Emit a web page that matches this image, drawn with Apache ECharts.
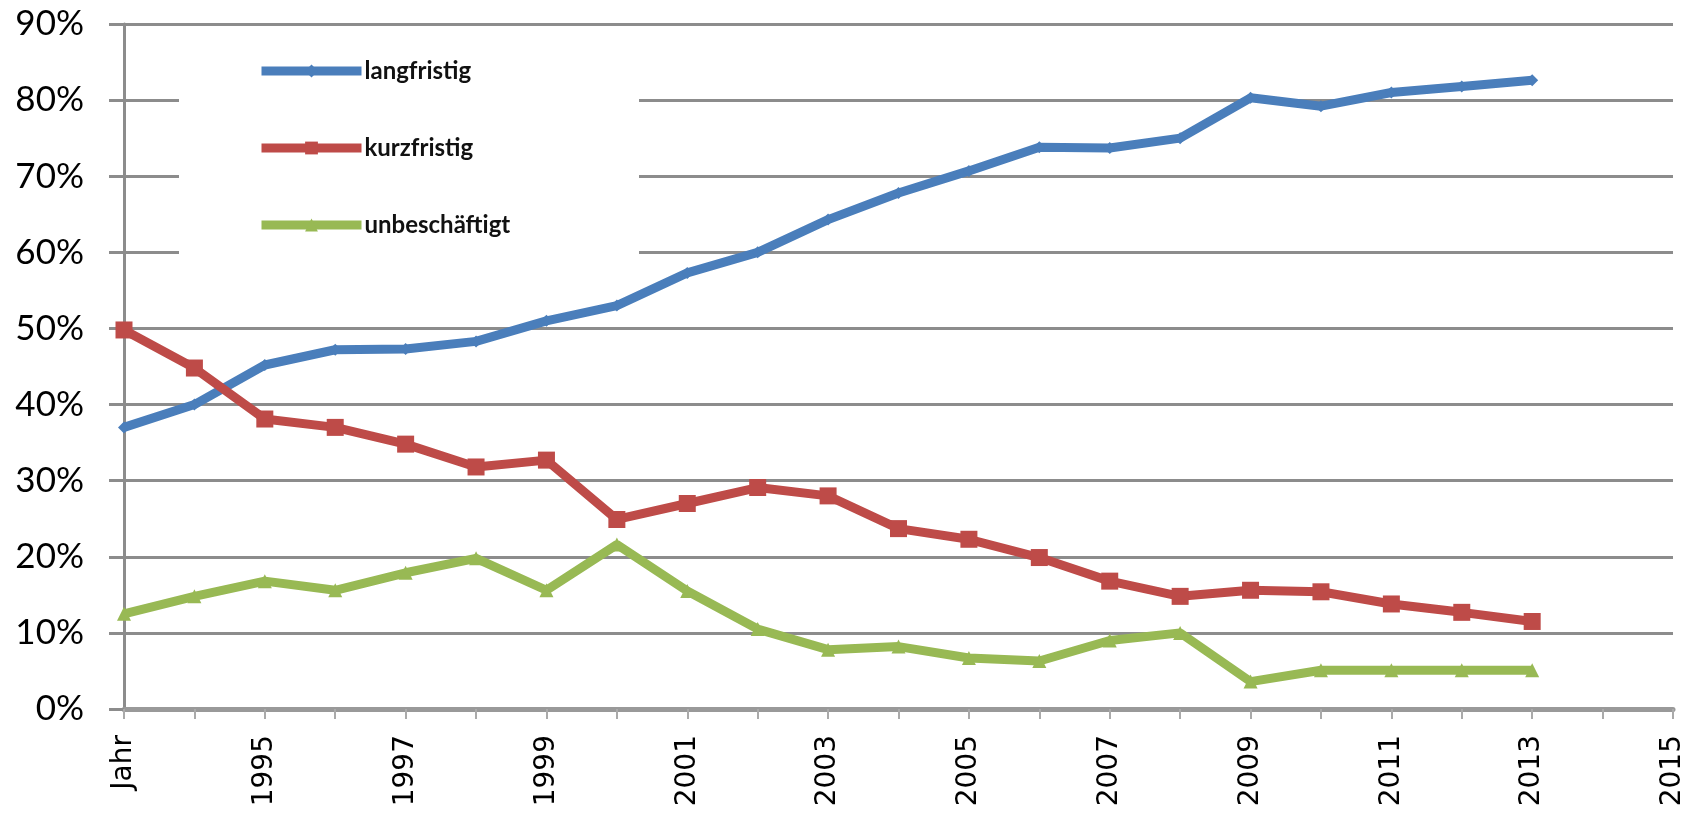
<!DOCTYPE html>
<html><head><meta charset="utf-8">
<script src="https://cdn.jsdelivr.net/npm/echarts@6/dist/echarts.min.js"></script>
<style>html,body{margin:0;padding:0;background:#fff}#c{width:1698px;height:819px}</style>
</head><body><div id="c"></div>
<script>
const categories = ['Jahr','1994','1995','1996','1997','1998','1999','2000','2001','2002','2003','2004','2005','2006','2007','2008','2009','2010','2011','2012','2013','2014','2015'];
const langfristig = [37, 40, 45.2, 47.2, 47.3, 48.3, 51, 53, 57.3, 60, 64.3, 67.8, 70.7, 73.8, 73.7, 75, 80.3, 79.2, 81, 81.8, 82.6];
const kurzfristig = [49.8, 44.8, 38.1, 37, 34.8, 31.8, 32.7, 24.9, 27, 29.1, 28, 23.7, 22.3, 19.9, 16.8, 14.8, 15.6, 15.4, 13.8, 12.7, 11.5];
const unbeschaeftigt = [12.5, 14.8, 16.8, 15.6, 17.9, 19.8, 15.6, 21.6, 15.5, 10.5, 7.8, 8.2, 6.7, 6.3, 9, 10, 3.6, 5.1, 5.1, 5.1, 5.1];
const seriesNames = ['langfristig','kurzfristig','unbeschäftigt'];
const yTicks = {min: 0, max: 90, interval: 10};

const chart = echarts.init(document.getElementById('c'));
const gridColor = '#8c8c8c';
function mk(name, data, color, symbol, size) {
  return {
    name, type: 'line', data, symbol, symbolSize: size,
    lineStyle: {color, width: 9},
    itemStyle: {color},
    z: 3
  };
}
chart.setOption({
  animation: false,
  backgroundColor: '#fff',
  grid: {left: 124, right: 25, top: 24, bottom: 110, containLabel: false},
  graphic: [{
    type: 'rect', left: 179, top: 40, z: 2,
    shape: {width: 460, height: 268},
    style: {fill: '#fff'}
  }],
  legend: {
    orient: 'vertical', left: 179, top: 40,
    padding: [19, 133, 20, 78],
    itemWidth: 100, itemHeight: 16, itemGap: 53,
    lineStyle: {width: 9},
    textStyle: {fontFamily: 'Lato', fontWeight: 'bold', fontSize: 24, color: '#111', padding: [0, 0, 0, -2]},
    data: seriesNames,
    z: 5
  },
  xAxis: {
    type: 'category', data: categories, boundaryGap: false,
    axisLine: {lineStyle: {color: '#999', width: 5}},
    axisTick: {show: true, interval: 0, length: 10, lineStyle: {color: '#aaa', width: 2}},
    axisLabel: {interval: 1, rotate: 90, margin: 26, fontFamily: 'DejaVu Sans', fontSize: 28, color: '#000'},
    splitLine: {show: false}
  },
  yAxis: {
    type: 'value', min: yTicks.min, max: yTicks.max, interval: yTicks.interval,
    axisLine: {show: true, lineStyle: {color: gridColor, width: 3}},
    axisTick: {show: true, length: 15, lineStyle: {color: gridColor, width: 3}},
    axisLabel: {formatter: '{value}%', margin: 40, fontFamily: 'Lato', fontSize: 35, color: '#000'},
    splitLine: {show: true, lineStyle: {color: gridColor, width: 3}}
  },
  series: [
    mk(seriesNames[0], langfristig, '#4a7ebb', 'diamond', 12),
    mk(seriesNames[1], kurzfristig, '#be4b48', 'rect', 17),
    mk(seriesNames[2], unbeschaeftigt, '#98b954', 'triangle', 14)
  ]
});
</script></body></html>
